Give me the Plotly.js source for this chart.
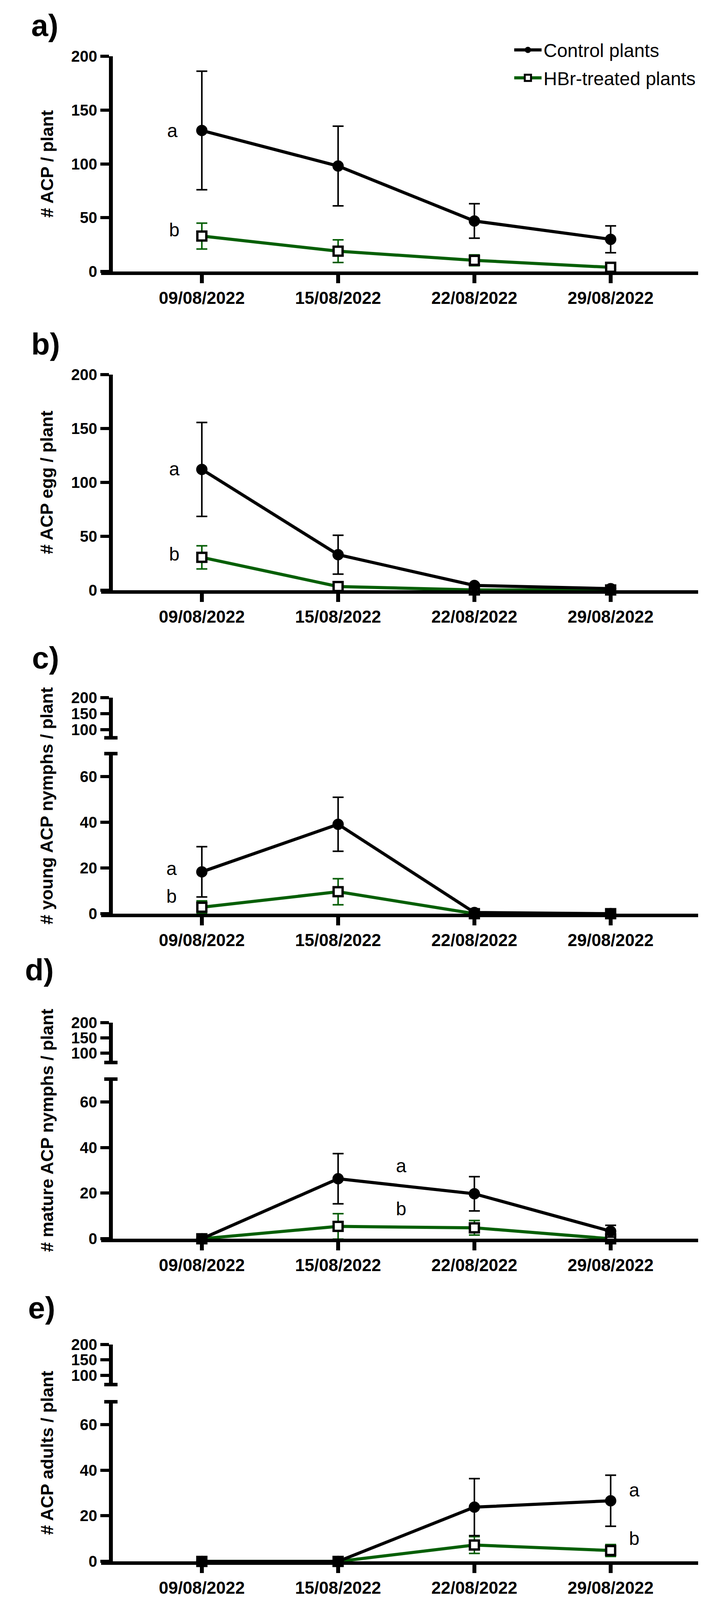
<!DOCTYPE html>
<html>
<head>
<meta charset="utf-8">
<script src="https://cdn.plot.ly/plotly-3.0.1.min.js"></script>
<style>
  html, body { margin: 0; padding: 0; background: #fff; overflow: hidden; }
  #chart { width: 1844px; }
</style>
</head>
<body>
<div id="chart"></div>
<script>
// sampling dates
var dates = ['09/08/2022', '15/08/2022', '22/08/2022', '29/08/2022'];

// a) total ACP / plant
var ctrlTotal = [131, 98, 47, 30];
var ctrlTotalErr = [55, 37, 16, 12.5];
var hbrTotal = [33, 19, 10.5, 4];
var hbrTotalErr = [12, 10.5, 5, 1];

// b) ACP eggs / plant
var ctrlEgg = [112, 33, 4.5, 1.5];
var ctrlEggErr = [43.5, 18, 1.5, 1];
var hbrEgg = [30.5, 3.5, 0.3, 0.3];
var hbrEggErr = [10.7, 1, 0, 0];

// c) young nymphs / plant
var ctrlYoung = [18.3, 39.1, 0.5, 0];
var ctrlYoungErr = [11, 11.8, 0, 0];
var hbrYoung = [2.8, 9.6, 0, 0];
var hbrYoungErr = [2.8, 5.7, 0, 0];

// d) mature nymphs / plant
var ctrlMature = [0, 26.3, 19.7, 3.3];
var ctrlMatureErr = [0, 11, 7.5, 2.6];
var hbrMature = [0, 5.4, 4.8, 0];
var hbrMatureErr = [0, 5.6, 3.2, 0];

// e) adults / plant
var ctrlAdult = [0, 0, 23.8, 26.6];
var ctrlAdultErr = [0, 0, 12.5, 11.2];
var hbrAdult = [0, 0, 7.2, 4.8];
var hbrAdultErr = [0, 0, 3.7, 2.6];

var seriesNames = ['Control plants', 'HBr-treated plants'];
var yTitles = ['# ACP / plant', '# ACP egg / plant', '# young ACP nymphs / plant',
               '# mature ACP nymphs / plant', '# ACP adults / plant'];
var panelLetters = ['a)', 'b)', 'c)', 'd)', 'e)'];

// design is laid out on a 1844 x 4730 sheet; fit the height to the window if it is shorter
var W = 1844, H = 4730;
var winH = window.innerHeight;
var plotH = (winH && winH > 1000 && winH < H) ? winH : H;
var k = plotH / H;              // vertical squeeze
var ks = Math.sqrt(k);          // for horizontal text
function px(x) { return x / W; }
function py(y) { return 1 - y / H; }

var FONT = 'Liberation Sans, Arial, Helvetica, sans-serif';
var GREEN = '#075f07';

// panel geometry in sheet pixels (zero line, top of lower axis, broken upper part)
var panels = [
  { ctrl: ctrlTotal,  ce: ctrlTotalErr,  hbr: hbrTotal,  he: hbrTotalErr,  zero: 803,  top: 166,  max: 200, label: 75,   title: 484 },
  { ctrl: ctrlEgg,    ce: ctrlEggErr,    hbr: hbrEgg,    he: hbrEggErr,    zero: 1745, top: 1107, max: 200, label: 1017, title: 1426 },
  { ctrl: ctrlYoung,  ce: ctrlYoungErr,  hbr: hbrYoung,  he: hbrYoungErr,  zero: 2701, top: 2228, max: 70,  label: 1945, title: 2382,
    up: { lo: 75, top: 2063, bottom: 2181 } },
  { ctrl: ctrlMature, ce: ctrlMatureErr, hbr: hbrMature, he: hbrMatureErr, zero: 3662, top: 3190, max: 70,  label: 2867, title: 3342,
    up: { lo: 70, top: 3023, bottom: 3141 } },
  { ctrl: ctrlAdult,  ce: ctrlAdultErr,  hbr: hbrAdult,  he: hbrAdultErr,  zero: 4616, top: 4144, max: 70,  label: 3866, title: 4295,
    up: { lo: 70, top: 3975, bottom: 4093 } }
];
var labelX = [78, 78, 80, 62, 70];

// significance letters: [x, y] sheet px of 'a' then 'b'
var letterPos = [
  [[441, 386], [446, 680]],
  [[446, 1386], [446, 1638]],
  [[439, 2568], [439, 2650]],
  [[1027, 3447], [1027, 3574]],
  [[1624, 4405], [1624, 4548]]
];

var axisX = 284;
var yTickFont = { family: FONT, size: Math.round(46 * k), color: '#000', weight: 700 };
var xTickFont = { family: FONT, size: Math.round(47 * ks), color: '#000', weight: 700 };

var data = [];
var layout = {
  width: W, height: plotH,
  margin: { l: 0, r: 0, t: 0, b: 0 },
  paper_bgcolor: '#fff', plot_bgcolor: 'rgba(0,0,0,0)',
  font: { family: FONT, color: '#000' },
  showlegend: true,
  legend: {
    x: px(1312), xanchor: 'left', y: py(104), yanchor: 'top',
    font: { family: FONT, size: Math.round(52 * ks), color: '#000' },
    bgcolor: 'rgba(0,0,0,0)', itemwidth: 70, tracegroupgap: 6
  },
  annotations: [], shapes: []
};

function yAxis(domain, range, ticks) {
  return {
    domain: domain, anchor: 'free', position: px(axisX),
    range: range, tickvals: ticks,
    showline: true, linewidth: 10, linecolor: '#000',
    ticks: 'outside', ticklen: 22, tickwidth: Math.round(9 * k), tickcolor: '#000',
    tickfont: yTickFont,
    showgrid: false, zeroline: false, fixedrange: true
  };
}

var yCount = 0, xCount = 0;
panels.forEach(function (p, i) {
  xCount++;
  var xn = xCount;
  yCount++;
  var yn = yCount;

  layout['xaxis' + xn] = {
    domain: [px(259), px(1788)],
    anchor: 'y' + yn,
    type: 'category',
    categoryarray: dates,
    range: [-0.739, 3.642],
    showline: true, linewidth: Math.round(10 * k), linecolor: '#000',
    ticks: 'outside', ticklen: Math.round(24 * k), tickwidth: 10, tickcolor: '#000',
    tickfont: xTickFont,
    showgrid: false, zeroline: false, fixedrange: true
  };
  layout['yaxis' + yn] = yAxis([py(p.zero), py(p.top)], [0, p.max],
    p.max === 200 ? [0, 50, 100, 150, 200] : [0, 20, 40, 60]);

  // HBr first so the control markers sit on top
  data.push({
    x: dates, y: p.hbr, name: seriesNames[1],
    xaxis: 'x' + xn, yaxis: 'y' + yn,
    type: 'scatter', mode: 'lines+markers', cliponaxis: false,
    legendgroup: 'hbr', showlegend: i === 0, legendrank: 2,
    line: { color: GREEN, width: 8 },
    marker: { symbol: 'square', size: 23, color: '#fff', line: { color: '#000', width: 6 } },
    error_y: { type: 'data', array: p.he, visible: true, color: GREEN, thickness: 4, width: 14 }
  });
  data.push({
    x: dates, y: p.ctrl, name: seriesNames[0],
    xaxis: 'x' + xn, yaxis: 'y' + yn,
    type: 'scatter', mode: 'lines+markers', cliponaxis: false,
    legendgroup: 'ctrl', showlegend: i === 0, legendrank: 1,
    line: { color: '#000', width: 8 },
    marker: { symbol: 'circle', size: 29, color: '#000' },
    error_y: { type: 'data', array: p.ce, visible: true, color: '#000', thickness: 4, width: 14 }
  });

  if (p.up) {
    // upper part of the broken y axis (empty, only its ticks are shown)
    xCount++;
    yCount++;
    layout['xaxis' + xCount] = {
      domain: [px(259), px(1788)], anchor: 'y' + yCount,
      type: 'category', categoryarray: dates,
      visible: false, range: [-0.739, 3.642], fixedrange: true
    };
    layout['yaxis' + yCount] = yAxis([py(p.up.bottom), py(p.up.top)], [p.up.lo, 200], [100, 150, 200]);
    data.push({
      x: [dates[0]], y: [null], xaxis: 'x' + xCount, yaxis: 'y' + yCount,
      type: 'scatter', mode: 'markers', showlegend: false, hoverinfo: 'skip'
    });
    [p.top, p.up.bottom].forEach(function (yy) {
      layout.shapes.push({
        type: 'line', xref: 'paper', yref: 'paper',
        x0: px(axisX - 17), x1: px(axisX + 17), y0: py(yy), y1: py(yy),
        line: { color: '#000', width: Math.round(10 * k) }
      });
    });
  }

  layout.annotations.push({
    text: yTitles[i], textangle: -90, showarrow: false,
    xref: 'paper', yref: 'paper', x: px(120), y: py(p.title),
    xanchor: 'center', yanchor: 'middle',
    font: { family: FONT, size: Math.round(52 * k), color: '#000', weight: 700 }
  });
  layout.annotations.push({
    text: panelLetters[i], showarrow: false,
    xref: 'paper', yref: 'paper', x: px(labelX[i]), y: py(p.label),
    xanchor: 'left', yanchor: 'middle',
    font: { family: FONT, size: Math.round(84 * ks), color: '#000', weight: 700 }
  });
  ['a', 'b'].forEach(function (t, j) {
    layout.annotations.push({
      text: t, showarrow: false,
      xref: 'paper', yref: 'paper',
      x: px(letterPos[i][j][0]), y: py(letterPos[i][j][1]),
      xanchor: 'center', yanchor: 'middle',
      font: { family: FONT, size: Math.round(52 * ks), color: '#000' }
    });
  });
});

Plotly.newPlot(document.getElementById('chart'), data, layout, { staticPlot: true });
</script>
</body>
</html>
